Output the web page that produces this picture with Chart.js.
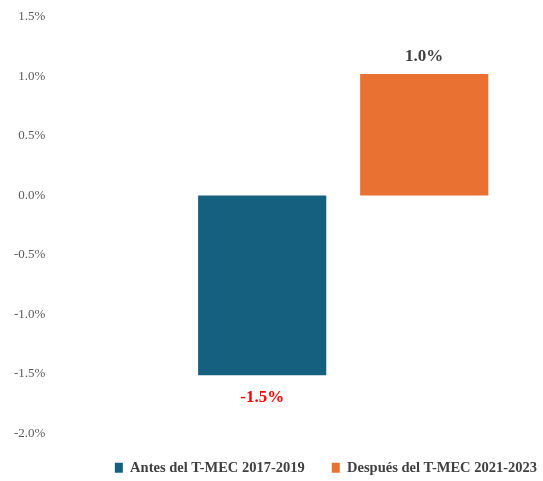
<!DOCTYPE html>
<html>
<head>
<meta charset="utf-8">
<script src="https://cdn.jsdelivr.net/npm/chart.js@4.4.1/dist/chart.umd.min.js"></script>
<style>
  html, body { margin: 0; padding: 0; background: #fff; }
  #wrap { width: 543px; height: 481px; }
</style>
</head>
<body>
<div id="wrap"><canvas id="chart" width="543" height="481"></canvas></div>
<script>
// Data
const categories = [''];
const seriesNames = ['Antes del T-MEC 2017-2019', 'Después del T-MEC 2021-2023'];
const antesValues = [-1.51];
const despuesValues = [1.02];
const valueLabels = ['-1.5%', '1.0%'];
const seriesColors = ['#16607f', '#e97132'];
const labelColors = ['#ff0000', '#404040'];

const FONT = "'Liberation Serif', 'DejaVu Serif', serif";

// Small plugin to write the value above / below each bar
const barLabels = {
  id: 'barLabels',
  afterDatasetsDraw(chart) {
    const ctx = chart.ctx;
    ctx.save();
    ctx.font = 'bold 17px ' + FONT;
    ctx.textAlign = 'center';
    ctx.textBaseline = 'middle';
    chart.data.datasets.forEach((ds, i) => {
      const meta = chart.getDatasetMeta(i);
      meta.data.forEach((bar, j) => {
        const v = ds.data[j];
        ctx.fillStyle = labelColors[i];
        const y = v >= 0 ? bar.y - 18 : bar.y + 22;
        ctx.fillText(valueLabels[i], bar.x, y);
      });
    });
    ctx.restore();
  }
};

new Chart(document.getElementById('chart'), {
  type: 'bar',
  data: {
    labels: categories,
    datasets: [
      {
        label: seriesNames[0],
        data: antesValues,
        backgroundColor: seriesColors[0],
        barPercentage: 0.791,
        categoryPercentage: 0.811
      },
      {
        label: seriesNames[1],
        data: despuesValues,
        backgroundColor: seriesColors[1],
        barPercentage: 0.791,
        categoryPercentage: 0.811
      }
    ]
  },
  options: {
    responsive: false,
    animation: false,
    layout: {
      padding: { top: 17, right: -21, left: 8, bottom: -4 }
    },
    plugins: {
      legend: {
        position: 'bottom',
        align: 'end',
        labels: {
          boxWidth: 8,
          boxHeight: 10,
          padding: 27,
          color: '#404040',
          font: { family: FONT, size: 14.5, weight: 'bold' }
        }
      },
      tooltip: { enabled: false }
    },
    scales: {
      x: {
        display: false
      },
      y: {
        min: -2,
        max: 1.5,
        weight: 1,
        grid: { display: false },
        border: { display: false },
        ticks: {
          stepSize: 0.5,
          padding: 6,
          color: '#595959',
          font: { family: FONT, size: 13 },
          callback: function(value) {
            return value.toFixed(1) + '%';
          }
        }
      },
      // empty spacer axis that pushes the plot to the right
      gap: {
        type: 'linear',
        position: 'left',
        weight: 0,
        grid: { display: false },
        border: { display: false },
        ticks: { display: false },
        afterFit: function(scale) {
          scale.width = 84;
        }
      }
    }
  },
  plugins: [barLabels]
});
</script>
</body>
</html>
